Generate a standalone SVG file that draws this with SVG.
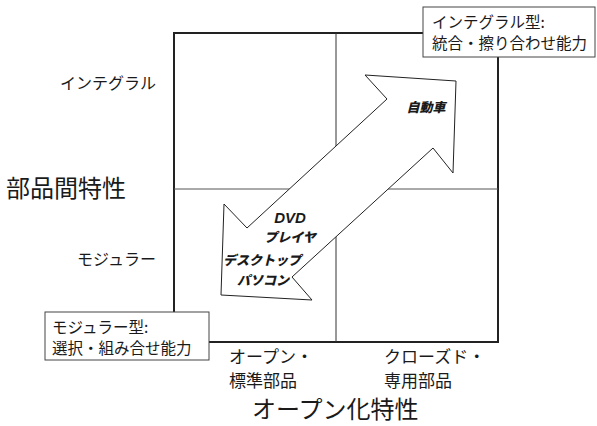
<svg xmlns="http://www.w3.org/2000/svg" width="597" height="426" viewBox="0 0 597 426">
<style>
text{font-family:"Noto Sans CJK JP","Noto Sans",sans-serif;fill:#1a1a1a}
.ax{font-size:16px}
.xl{font-size:17px}
.tl{font-size:24px}
.bx{font-size:15.5px}
.em{font-size:13px;font-weight:900;font-style:italic}
.emL{font-family:"Liberation Sans","Noto Sans CJK JP",sans-serif;font-size:15px;font-weight:bold;font-style:italic}
.box{fill:#fff;stroke:#444;stroke-width:1}
</style>
<rect width="597" height="426" fill="#fff"/>
<g id="frame">
<rect x="174" y="33" width="324" height="309" fill="none" stroke="#222" stroke-width="2"/>
<line x1="336" y1="33" x2="336" y2="342" stroke="#333" stroke-width="1"/>
<line x1="174" y1="189" x2="498" y2="189" stroke="#555" stroke-width="1"/>
</g>
<g id="connectors">
<polygon points="387,99 365,75 456,81 453,173 433,148 292,277 312,300 221,295 224,204 247,228" fill="#fff" stroke="#222" stroke-width="1"/>
</g>
<g id="arrow-labels">
<text class="em" x="426" y="112" text-anchor="middle">自動車</text>
<text class="emL" x="290" y="223" text-anchor="middle">DVD</text>
<text class="em" x="290" y="242" text-anchor="middle">プレイヤ</text>
<text class="em" x="262" y="265" text-anchor="middle">デスクトップ</text>
<text class="em" x="263" y="285" text-anchor="middle">パソコン</text>
</g>
<g id="integral-box">
<rect class="box" x="423" y="7" width="172" height="50"/>
<text class="bx" x="432" y="28">インテグラル型:</text>
<text class="bx" x="432" y="49">統合・擦り合わせ能力</text>
</g>
<g id="modular-box">
<rect class="box" x="45" y="312" width="164" height="48"/>
<text class="bx" x="52" y="333">モジュラー型:</text>
<text class="bx" x="52" y="354">選択・組み合せ能力</text>
</g>
<g id="y-axis">
<text class="ax" x="156" y="89" text-anchor="end">インテグラル</text>
<text class="ax" x="156" y="265" text-anchor="end">モジュラー</text>
<text class="tl" x="6" y="197">部品間特性</text>
</g>
<g id="x-axis">
<text class="xl" x="229" y="363">オープン・</text>
<text class="xl" x="229" y="387">標準部品</text>
<text class="xl" x="384" y="363">クローズド・</text>
<text class="xl" x="384" y="387">専用部品</text>
<text class="tl" x="252" y="418">オープン化特性</text>
</g>
</svg>
